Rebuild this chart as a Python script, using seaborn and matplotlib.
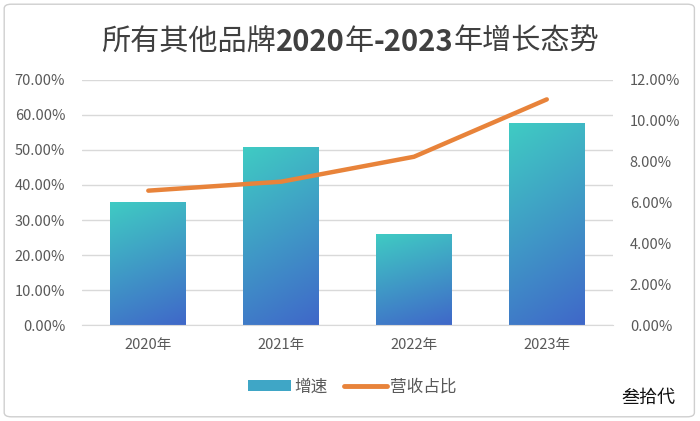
import numpy as np
import pandas as pd
import seaborn as sns
import matplotlib.pyplot as plt
from matplotlib.patches import Patch, FancyBboxPatch
from matplotlib.lines import Line2D
from matplotlib.colors import LinearSegmentedColormap
from matplotlib.ticker import FuncFormatter

sns.set_style("white")
plt.rcParams['font.family'] = ['Noto Sans CJK SC', 'DejaVu Sans']

years = ["2020年", "2021年", "2022年", "2023年"]
growth = [35.2, 50.9, 26.0, 57.6]       # 增速 (%)
revenue_share = [6.58, 7.02, 8.24, 11.05]  # 营收占比 (%)

df = pd.DataFrame({"year": years, "growth": growth, "share": revenue_share})
df["pos"] = np.arange(len(df))

text_c = "#595959"
grid_c = "#D9D9D9"
line_c = "#E8833A"
grad = LinearSegmentedColormap.from_list("g", ["#3F68C9", "#40CBC3"])

fig = plt.figure(figsize=(7, 4.21), dpi=100)
ax = fig.add_axes([0.117, 0.228, 0.759, 0.582])

sns.barplot(data=df, x="year", y="growth", ax=ax, width=0.57, color="#40B0C6")

# gradient fill for bars
g = np.add.outer(np.linspace(1, 0, 60), np.linspace(0.25, 0, 40))
g = (g - g.min()) / (g.max() - g.min())
for p in ax.patches:
    x0, y0 = p.get_x(), p.get_y()
    w, h = p.get_width(), p.get_height()
    im = ax.imshow(g, cmap=grad, extent=[x0, x0 + w, y0, y0 + h],
                   aspect="auto", origin="upper", zorder=2)
    im.set_clip_path(p)
    p.set_facecolor("none")
    p.set_edgecolor("none")
ax.set_xlim(-0.5, len(years) - 0.5)
ax.set_ylim(0, 70)

ax.set_yticks(np.arange(0, 71, 10))
ax.yaxis.set_major_formatter(FuncFormatter(lambda v, _: f"{v:.2f}%"))
ax.grid(axis="y", color=grid_c, linewidth=1)
ax.set_axisbelow(True)
ax.set_xlabel("")
ax.set_ylabel("")
for s in ["top", "right", "left"]:
    ax.spines[s].set_visible(False)
ax.spines["bottom"].set_color(grid_c)
ax.tick_params(axis="both", length=0, labelsize=10.5, labelcolor=text_c)
ax.tick_params(axis="y", pad=12)
ax.tick_params(axis="x", pad=9)

ax2 = ax.twinx()
sns.lineplot(data=df, x="pos", y="share", ax=ax2, color=line_c,
             linewidth=3.2, solid_capstyle="round", zorder=5)
ax2.set_ylim(0, 12)
ax2.set_xlim(-0.5, len(years) - 0.5)
ax2.set_yticks(np.arange(0, 12.1, 2))
ax2.yaxis.set_major_formatter(FuncFormatter(lambda v, _: f"{v:.2f}%"))
ax2.set_ylabel("")
ax2.set_xlabel("")
for s in ["top", "right", "left", "bottom"]:
    ax2.spines[s].set_visible(False)
ax2.tick_params(axis="y", length=0, labelsize=10.5, labelcolor=text_c, pad=12)

# title: Chinese in regular weight, numbers in bold
title_size = 21
pieces = [("所有其他品牌", "normal"), ("2020", "bold"), ("年", "normal"),
          ("-2023", "bold"), ("年增长态势", "normal")]
first = fig.text(0.1, 0.9, pieces[0][0], ha="left", va="center",
                 fontsize=title_size, color="#404040", fontweight=pieces[0][1])
texts = [first]
for s, wgt in pieces[1:]:
    t = fig.text(0, 0, s, fontsize=title_size, color="#404040", fontweight=wgt, va="center")
    texts.append(t)
fig.canvas.draw()
r = fig.canvas.get_renderer()
fb = first.get_window_extent(r)
x_cur = fb.x0
for t in texts:
    bb = t.get_window_extent(r)
    if t is not first:
        t.set_transform(plt.matplotlib.transforms.IdentityTransform())
        t.set_position((x_cur, fb.y0 + fb.height / 2))
    x_cur += bb.width
total = x_cur - fb.x0
shift = (fig.bbox.width - total) / 2 - fb.x0
for t in texts:
    if t is first:
        t.set_position((0.1 + shift / fig.bbox.width, 0.9))
    else:
        px, py = t.get_position()
        t.set_position((px + shift, py))

handles = [Patch(facecolor="#3FA6C6", edgecolor="none"),
           Line2D([0], [0], color=line_c, linewidth=3.5, solid_capstyle="round")]
fig.legend(handles, ["增速", "营收占比"], loc="center", bbox_to_anchor=(0.503, 0.081),
           ncol=2, frameon=False, fontsize=12, handlelength=2.6, handletextpad=0.15,
           columnspacing=1.0, labelcolor=text_c, handleheight=0.6)

fig.text(0.965, 0.055, "叁拾代", ha="right", va="center", fontsize=13, color="#111111")

border = FancyBboxPatch((0.006, 0.01), 0.986, 0.98, boxstyle="round,pad=0,rounding_size=0.01",
                        transform=fig.transFigure, facecolor="none", edgecolor="#CFCFCF",
                        linewidth=1)
fig.patches.append(border)

fig.savefig("out.png", dpi=100)
